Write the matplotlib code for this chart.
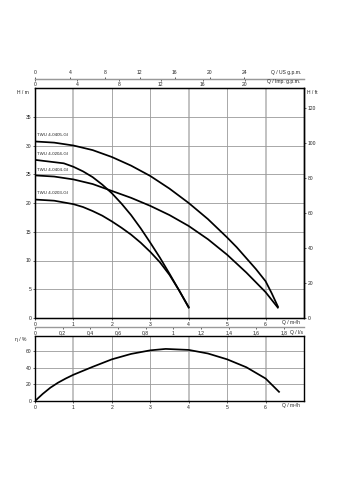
import matplotlib
matplotlib.use("Agg")
import matplotlib.pyplot as plt

plt.rcParams['font.family'] = ['Liberation Sans', 'DejaVu Sans']

# Pump curves, Q in m3/h, H in m
q_0405 = [0, 0.5, 1, 1.5, 2, 2.5, 3, 3.5, 4, 4.5, 5, 5.25, 5.5, 5.75, 6, 6.16, 6.32]
h_0405 = [30.7, 30.5, 30.0, 29.2, 28.0, 26.5, 24.7, 22.5, 20.0, 17.2, 14.0, 12.3, 10.4, 8.5, 6.4, 4.3, 2.0]

q_0204 = [0, 0.5, 0.75, 1, 1.25, 1.5, 1.75, 2, 2.25, 2.5, 2.75, 3, 3.25, 3.5, 3.75, 4.0]
h_0204 = [27.5, 27.1, 26.9, 26.3, 25.5, 24.5, 23.2, 21.7, 19.9, 17.9, 15.6, 13.1, 10.5, 7.7, 4.8, 1.8]

q_0404 = [0, 0.5, 1, 1.5, 2, 2.5, 3, 3.5, 4, 4.5, 5, 5.5, 6, 6.32]
h_0404 = [24.8, 24.6, 24.1, 23.3, 22.1, 20.9, 19.5, 17.9, 16.0, 13.7, 11.0, 7.9, 4.5, 1.8]

q_0203 = [0, 0.5, 1, 1.25, 1.5, 1.75, 2, 2.25, 2.5, 2.75, 3, 3.25, 3.5, 3.75, 4.0]
h_0203 = [20.6, 20.4, 19.8, 19.3, 18.6, 17.8, 16.8, 15.7, 14.5, 13.1, 11.5, 9.7, 7.5, 4.8, 1.9]

curve_names = ["TWU 4-0405-GI", "TWU 4-0204-GI", "TWU 4-0404-GI", "TWU 4-0203-GI"]
label_h = [31.9, 28.5, 25.7, 21.8]

# Efficiency curve
q_eta = [0, 0.2, 0.4, 0.6, 0.8, 1, 1.5, 2, 2.5, 3, 3.4, 4, 4.5, 5, 5.5, 6, 6.35]
eta = [0, 8.5, 16, 22, 27, 31.5, 41, 50, 56.5, 60.8, 62.5, 61.3, 57, 50, 40.5, 27, 11]

q_ticks = [0, 1, 2, 3, 4, 5, 6]
thick_q = [1, 4, 6]
h_ticks = [0, 5, 10, 15, 20, 25, 30, 35]
ft_ticks = [0, 20, 40, 60, 80, 100, 120]
eta_ticks = [0, 20, 40, 60]
us_gpm_ticks = [0, 4, 8, 12, 16, 20, 24]
imp_gpm_ticks = [0, 4, 8, 12, 16, 20]
ls_ticks = [0, 0.2, 0.4, 0.6, 0.8, 1.0, 1.2, 1.4, 1.6, 1.8]

Q_MAX = 7
H_MAX = 40
US_GPM = 4.4029
IMP_GPM = 3.6662
LPS = 0.27778
FT = 3.28084
FS = 3.6
TXT = "#222222"

W, Hpx = 339, 480


def fx(px):
    return px / W


def fy(py):
    return 1 - py / Hpx


def style_grid(a, yt):
    for q in q_ticks[1:]:
        if q in thick_q:
            a.axvline(q, color="#bdbdbd", lw=1.3, zorder=0)
        else:
            a.axvline(q, color="#9a9a9a", lw=0.6, zorder=0)
    for y in yt[1:]:
        a.axhline(y, color="#9a9a9a", lw=0.6, zorder=0)
    for s in a.spines.values():
        s.set_linewidth(1.0)
        s.set_color("black")
    a.tick_params(labelsize=FS, length=1.5, width=0.5, pad=1.2, colors=TXT)


def scale_axis(y_px, xmax, ticks, labels=None):
    a = fig.add_axes([fx(35), fy(y_px), (304 - 35) / W, 0.0001])
    a.set_xlim(0, xmax)
    a.set_yticks([])
    for k in ["left", "right", "top"]:
        a.spines[k].set_visible(False)
    a.spines["bottom"].set_color("#999999")
    a.spines["bottom"].set_linewidth(1.0)
    a.set_xticks(ticks)
    if labels is not None:
        a.set_xticklabels(labels)
    a.tick_params(labelsize=FS, length=1.5, width=0.5, pad=1.0, colors=TXT)
    return a


fig = plt.figure(figsize=(W / 100, Hpx / 100), dpi=100)

# Head chart
ax = fig.add_axes([fx(35), fy(318), (304 - 35) / W, (318 - 88) / Hpx])
ax.set_xlim(0, Q_MAX)
ax.set_ylim(0, H_MAX)
style_grid(ax, h_ticks)
ax.set_xticks(q_ticks)
ax.set_yticks(h_ticks)

for q, h in [(q_0405, h_0405), (q_0204, h_0204), (q_0404, h_0404), (q_0203, h_0203)]:
    ax.plot(q, h, color="black", lw=1.25, solid_joinstyle="round")
for name, yh in zip(curve_names, label_h):
    ax.text(0.06, yh, name, fontsize=3.2, ha="left", va="center", color=TXT)

ax_r = ax.twinx()
ax_r.set_ylim(0, H_MAX * FT)
ax_r.set_yticks(ft_ticks)
ax_r.tick_params(labelsize=FS, length=1.5, width=0.5, pad=1.2, colors=TXT)
ax_r.spines["right"].set_linewidth(1.0)

fig.text(fx(23), fy(92), "H / m", fontsize=FS, ha="center", va="center", color=TXT)
fig.text(fx(312), fy(93), "H / ft", fontsize=FS, ha="center", va="center", color=TXT)
fig.text(fx(291), fy(322.5), "Q / m³/h", fontsize=FS, ha="center", va="center", color=TXT)

# Flow scales above head chart
ax_t = scale_axis(78.7, Q_MAX * IMP_GPM, imp_gpm_ticks)
ax_us = ax_t.twiny()
ax_us.set_xlim(0, Q_MAX * US_GPM)
ax_us.set_xticks(us_gpm_ticks)
for k in ["left", "right", "bottom"]:
    ax_us.spines[k].set_visible(False)
ax_us.spines["top"].set_color("#999999")
ax_us.tick_params(labelsize=FS, length=1.5, width=0.5, pad=1.0, colors=TXT)
fig.text(fx(286), fy(72.5), "Q / US g.p.m.", fontsize=FS, ha="center", va="center", color=TXT)
fig.text(fx(284), fy(81.8), "Q / Imp. g.p.m.", fontsize=FS, ha="center", va="center", color=TXT)

# l/s scale between charts
ls_labels = [("%g" % v).replace(".", ",") for v in ls_ticks]
ax_ls = scale_axis(327.3, Q_MAX * LPS, ls_ticks, ls_labels)
fig.text(fx(296), fy(332.8), "Q / l/s", fontsize=FS, ha="center", va="center", color=TXT)

# Efficiency chart
ax2 = fig.add_axes([fx(35), fy(401), (304 - 35) / W, (401 - 336) / Hpx])
ax2.set_xlim(0, Q_MAX)
ax2.set_ylim(0, 78)
style_grid(ax2, eta_ticks)
ax2.set_xticks(q_ticks)
ax2.set_yticks(eta_ticks)
ax2.plot(q_eta, eta, color="black", lw=1.25, solid_joinstyle="round")
fig.text(fx(21), fy(339.5), "η / %", fontsize=FS, ha="center", va="center", color=TXT)
fig.text(fx(291), fy(405.5), "Q / m³/h", fontsize=FS, ha="center", va="center", color=TXT)

fig.savefig("out.png", dpi=100)
